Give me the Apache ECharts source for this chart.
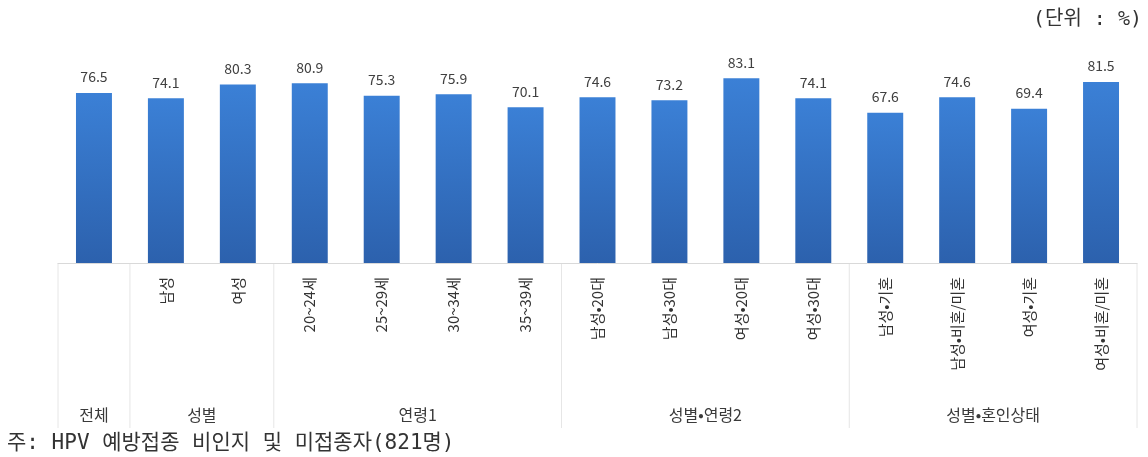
<!DOCTYPE html>
<html>
<head>
<meta charset="utf-8">
<script src="https://cdn.jsdelivr.net/npm/echarts@6/dist/echarts.min.js"></script>
<style>
  html, body { margin: 0; padding: 0; background: #fff; }
  #main { width: 1148px; height: 457px; }
</style>
</head>
<body>
<div id="main"></div>
<script>
// 데이터
const categories = ['', '남성', '여성', '20~24세', '25~29세', '30~34세', '35~39세',
  '남성•20대', '남성•30대', '여성•20대', '여성•30대',
  '남성•기혼', '남성•비혼/미혼', '여성•기혼', '여성•비혼/미혼'];
const values = [76.5, 74.1, 80.3, 80.9, 75.3, 75.9, 70.1, 74.6, 73.2, 83.1, 74.1, 67.6, 74.6, 69.4, 81.5];
const groupNames = ['전체', '성별', '연령1', '성별•연령2', '성별•혼인상태'];
const groupSizes = [1, 2, 4, 4, 4];

const FONT = '"Noto Sans CJK KR", "Noto Sans", sans-serif';
const MONO = '"DejaVu Sans Mono", "Noto Sans CJK KR", monospace';

const chart = echarts.init(document.getElementById('main'));

chart.setOption({
  animation: false,
  grid: { left: 58, right: 11, top: 63, bottom: 194 },
  xAxis: {
    type: 'category',
    data: categories,
    axisLine: { show: true, lineStyle: { color: '#d9d9d9' } },
    axisTick: { show: false },
    axisLabel: {
      interval: 0,
      rotate: 90,
      margin: 14,
      color: '#333',
      fontSize: 15,
      fontFamily: FONT
    }
  },
  yAxis: {
    type: 'value',
    min: 0,
    max: 90,
    show: false,
    splitLine: { show: false }
  },
  series: [{
    type: 'bar',
    data: values,
    barWidth: '50%',
    itemStyle: {
      color: new echarts.graphic.LinearGradient(0, 0, 0, 1, [
        { offset: 0, color: '#3b80d6' },
        { offset: 1, color: '#2c61ad' }
      ])
    },
    label: {
      show: true,
      position: 'top',
      distance: 9,
      color: '#404040',
      fontSize: 14,
      fontFamily: FONT,
      formatter: p => p.value.toFixed(1)
    }
  }]
});

// 그룹 구분선과 그룹 이름
function drawGroups() {
  const c0 = chart.convertToPixel({ xAxisIndex: 0 }, 0);
  const c1 = chart.convertToPixel({ xAxisIndex: 0 }, 1);
  const bw = c1 - c0;
  const axisY = chart.convertToPixel({ yAxisIndex: 0 }, 0);
  const elements = [];
  let start = 0;
  const edge = i => c0 + (i - 0.5) * bw;
  elements.push({
    type: 'line', silent: true,
    shape: { x1: edge(0), y1: axisY, x2: edge(0), y2: axisY + 165 },
    style: { stroke: '#e6e6e6', lineWidth: 1 }
  });
  groupNames.forEach((name, g) => {
    const end = start + groupSizes[g];
    const x = edge(end);
    elements.push({
      type: 'line', silent: true,
      shape: { x1: x, y1: axisY, x2: x, y2: axisY + 165 },
      style: { stroke: '#e6e6e6', lineWidth: 1 }
    });
    elements.push({
      type: 'text', silent: true,
      x: (edge(start) + x) / 2, y: axisY + 152,
      style: {
        text: name, fill: '#3a3a3a', font: '16px ' + FONT,
        align: 'center', verticalAlign: 'middle'
      }
    });
    start = end;
  });
  elements.push({
    type: 'text', silent: true, x: 1142, y: 20,
    style: {
      text: '(단위 : %)', fill: '#333', font: '20px ' + MONO,
      align: 'right', verticalAlign: 'middle'
    }
  });
  elements.push({
    type: 'text', silent: true, x: 7, y: 444,
    style: {
      text: '주: HPV 예방접종 비인지 및 미접종자(821명)', fill: '#333', font: '21px ' + MONO,
      align: 'left', verticalAlign: 'middle'
    }
  });
  chart.setOption({ graphic: { elements: elements } });
}
drawGroups();
</script>
</body>
</html>
